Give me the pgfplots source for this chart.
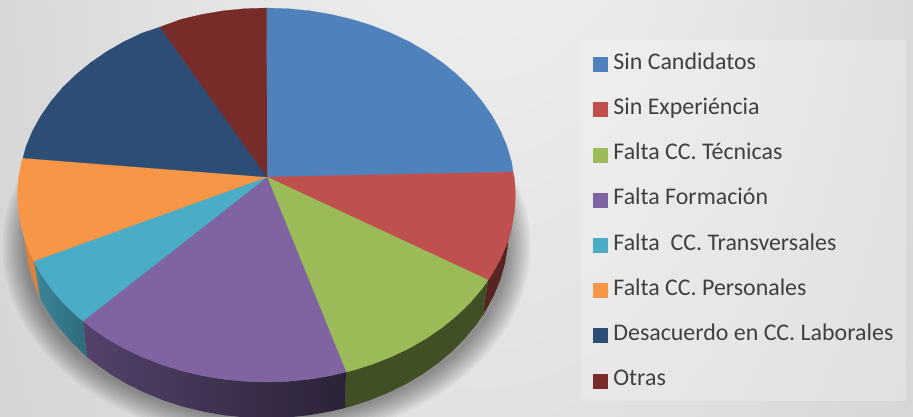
\documentclass[border=0pt]{standalone}
\usepackage{fontspec}
\setmainfont{Carlito}
\usepackage{pgfplots}
\pgfplotsset{compat=1.18}
\definecolor{cblue}{HTML}{4F81BD}
\definecolor{cred}{HTML}{C0504D}
\definecolor{cgreen}{HTML}{9BBB59}
\definecolor{cpurple}{HTML}{8064A2}
\definecolor{cteal}{HTML}{4BACC6}
\definecolor{corange}{HTML}{F79646}
\definecolor{cnavy}{HTML}{2C4D75}
\definecolor{cmaroon}{HTML}{772C2A}
\definecolor{ctext}{HTML}{404040}
\pgfdeclareradialshading{bgshade}{\pgfpoint{2bp}{25bp}}{
  color(0bp)=(white!97!black);
  color(25bp)=(white!85!black);
  color(50bp)=(white!77!black);
  color(60bp)=(white!73!black)}
\begin{document}
\begin{tikzpicture}
\begin{axis}[
  at={(0pt,0pt)}, anchor=south west,
  width=913pt, height=417pt, scale only axis,
  xmin=0, xmax=913, ymin=0, ymax=417, y dir=reverse,
  hide axis,
  legend cell align=left,
  legend style={
    at={(axis cs:593,54)}, anchor=north west, draw=none, fill=none,
    inner sep=0pt, row sep=25.2pt, column sep=6pt,
    font=\fontsize{23.9}{26}\selectfont, text=ctext,
    nodes={inner sep=0pt, text height=15pt, text depth=5pt},
  },
  legend image code/.code={
    \fill[#1] (0pt,-7pt) rectangle (14pt,7pt);
  },
]
% background and legend panel
\path[shading=bgshade] (axis cs:0,-417) rectangle (axis cs:913,1251);
\fill[white, opacity=0.23] (axis cs:581,40) rectangle (axis cs:906,401);
% soft shadow below the pie
\pgfplotsinvokeforeach{0,2,4,6,8,10,12,14,16,18,20,22}{
  \fill[black, opacity=0.035] (axis cs:266.5,246) ellipse [x radius={242+#1}, y radius={174+#1}];
}
% side walls
\addplot[forget plot, draw=none, fill=cred!45!black] coordinates {
  (511.7,227.5) (507,243.4) (500.5,259) (492.2,274) (488,280)
  (483,315) (485.8,310.5) (493.9,295.5) (500.3,279.9) (504.8,264.1) (507.6,248) (508.5,231.7)
} -- cycle;
\addplot[forget plot, draw=none, fill=cgreen!42!black] coordinates {
  (488,280) (482.1,288.5) (470.5,302.3) (457.2,315.2) (442.6,327.2) (426.6,338.2) (409.3,348.2) (391,356.9) (371.7,364.5) (351.7,370.7) (346,372)
  (345,408) (349.3,406.9) (368.8,400.6) (387.5,393.1) (405.3,384.4) (422.1,374.5) (437.6,363.5) (451.9,351.5) (464.7,338.6) (476.1,324.9) (483,315)
} -- cycle;
\addplot[forget plot, draw=none, left color=cpurple!66!black, right color=cpurple!34!black] coordinates {
  (346,372) (330.9,375.6) (309.7,379.2) (288.2,381.3) (266.5,382) (244.8,381.3) (223.3,379.2) (202.1,375.6) (181.3,370.7) (161.3,364.5) (142,356.9) (123.7,348.2) (106.4,338.2) (90.4,327.2) (83,321)
  (87,357) (95.4,363.5) (110.9,374.5) (127.7,384.4) (145.5,393.1) (164.2,400.6) (183.7,406.9) (203.9,411.7) (224.5,415.3) (245.4,417.4) (266.5,418.1) (287.6,417.4) (308.5,415.3) (329.1,411.7) (345,408)
} -- cycle;
\addplot[forget plot, draw=none, left color=cteal!78!black, right color=cteal!62!black] coordinates {
  (83,321) (75.8,315.2) (62.5,302.3) (50.9,288.5) (40.8,274) (34,261)
  (40,298) (47.2,310.5) (56.9,324.9) (68.3,338.6) (81.1,351.5) (87,357)
} -- cycle;
\addplot[forget plot, draw=none, fill=corange!88!black] coordinates {
  (34,261) (32.5,259) (26,243.4) (24,234)
  (25.4,248) (28.2,264.1) (32.7,279.9) (39.1,295.5) (40,298)
} -- cycle;
% top face
\addplot[draw=cblue, very thin, fill=cblue] coordinates {
  (267,177) (266.5,8) (288.2,8.7) (309.7,10.8) (330.9,14.4) (351.7,19.3) (371.7,25.5) (391,33.1) (409.3,41.8) (426.6,51.8) (442.6,62.8) (457.2,74.8) (470.5,87.7) (482.1,101.5) (492.2,116) (500.5,131) (507,146.6) (511.7,162.5) (513,172)
} -- cycle;
\addlegendentry{Sin Candidatos}
\addplot[draw=cred, very thin, fill=cred] coordinates {
  (267,177) (513,172) (514.5,178.7) (515.5,195) (514.5,211.3) (511.7,227.5) (507,243.4) (500.5,259) (492.2,274) (488,280)
} -- cycle;
\addlegendentry{Sin Experiéncia}
\addplot[draw=cgreen, very thin, fill=cgreen] coordinates {
  (267,177) (488,280) (482.1,288.5) (470.5,302.3) (457.2,315.2) (442.6,327.2) (426.6,338.2) (409.3,348.2) (391,356.9) (371.7,364.5) (351.7,370.7) (346,372)
} -- cycle;
\addlegendentry{Falta CC. Técnicas}
\addplot[draw=cpurple, very thin, fill=cpurple] coordinates {
  (267,177) (346,372) (330.9,375.6) (309.7,379.2) (288.2,381.3) (266.5,382) (244.8,381.3) (223.3,379.2) (202.1,375.6) (181.3,370.7) (161.3,364.5) (142,356.9) (123.7,348.2) (106.4,338.2) (90.4,327.2) (83,321)
} -- cycle;
\addlegendentry{Falta Formación}
\addplot[draw=cteal, very thin, fill=cteal] coordinates {
  (267,177) (83,321) (75.8,315.2) (62.5,302.3) (50.9,288.5) (40.8,274) (34,261)
} -- cycle;
\addlegendentry{Falta\ \ CC. Transversales}
\addplot[draw=corange, very thin, fill=corange] coordinates {
  (267,177) (34,261) (32.5,259) (26,243.4) (21.3,227.5) (18.5,211.3) (17.5,195) (18.5,178.7) (21.3,162.5) (23,158)
} -- cycle;
\addlegendentry{Falta CC. Personales}
\addplot[draw=cnavy, very thin, fill=cnavy] coordinates {
  (267,177) (23,158) (26,146.6) (32.5,131) (40.8,116) (50.9,101.5) (62.5,87.7) (75.8,74.8) (90.4,62.8) (106.4,51.8) (123.7,41.8) (142,33.1) (160,27)
} -- cycle;
\addlegendentry{Desacuerdo en CC. Laborales}
\addplot[draw=cmaroon, very thin, fill=cmaroon] coordinates {
  (267,177) (160,27) (181.3,19.3) (202.1,14.4) (223.3,10.8) (244.8,8.7) (266.5,8)
} -- cycle;
\addlegendentry{Otras}
\end{axis}
\end{tikzpicture}
\end{document}
